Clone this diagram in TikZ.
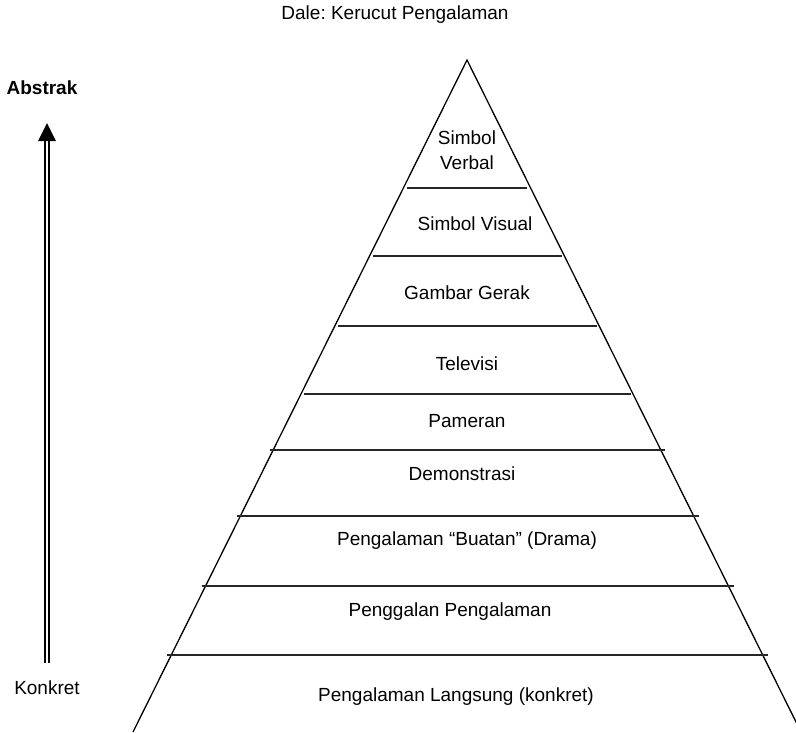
\documentclass[tikz,border=0pt]{standalone}
\usepackage{fontspec}
\setmainfont{Liberation Sans}
\frenchspacing
\begin{document}
\begin{tikzpicture}[x=1pt,y=-1pt,
  lbl/.style={font=\fontsize{19}{22}\selectfont, inner sep=0pt, align=center},
  tier/.style={line width=1.4pt, draw=black!85},
  side/.style={line width=1.3pt}]
\useasboundingbox (0,0) rectangle (796,732);
\begin{scope}
\clip (0,0) rectangle (796,732);
\coordinate (apex) at (467,60);
\coordinate (bl) at (133,732);
\coordinate (br) at (801,732);
\draw[side] (bl) -- (apex) -- (br);
\end{scope}
% tiers
\foreach \y/\xl/\xr in {188/407/527, 256/373/562, 326/338/597, 394/304/631, 450/270/665, 516/237/699, 586/202/734, 655/167/768}{
  \draw[tier] (\xl,\y) -- (\xr,\y);
}
% labels
\node[lbl] (title) at (395,15) {Dale: Kerucut Pengalaman};
\node[lbl] (sv) at (467,150) {Simbol\\[3pt]Verbal};
\node[lbl] (svis) at (475,224) {Simbol Visual};
\node[lbl] (gg) at (467,293) {Gambar Gerak};
\node[lbl] (tv) at (467,364) {Televisi};
\node[lbl] (pam) at (467,421) {Pameran};
\node[lbl] (dem) at (462,474) {Demonstrasi};
\node[lbl] (drama) at (467,541) {Pengalaman “Buatan” (Drama)};
\node[lbl] (peng) at (450,612) {Penggalan Pengalaman};
\node[lbl] (lang) at (456,697) {Pengalaman Langsung (konkret)};
\node[lbl, font=\fontsize{19}{22}\selectfont\bfseries] (abs) at (42,88) {Abstrak};
\node[lbl] (kon) at (47,688) {Konkret};
% arrow
\coordinate (abot) at (47,663);
\coordinate (atop) at (47,141);
\coordinate (atip) at (47,123);
\draw[line width=1.6pt, double, double distance=2.2pt] (abot) -- (atop);
\fill ([xshift=-9pt]atop) -- (atip) -- ([xshift=9pt]atop) -- cycle;
\end{tikzpicture}
\end{document}
